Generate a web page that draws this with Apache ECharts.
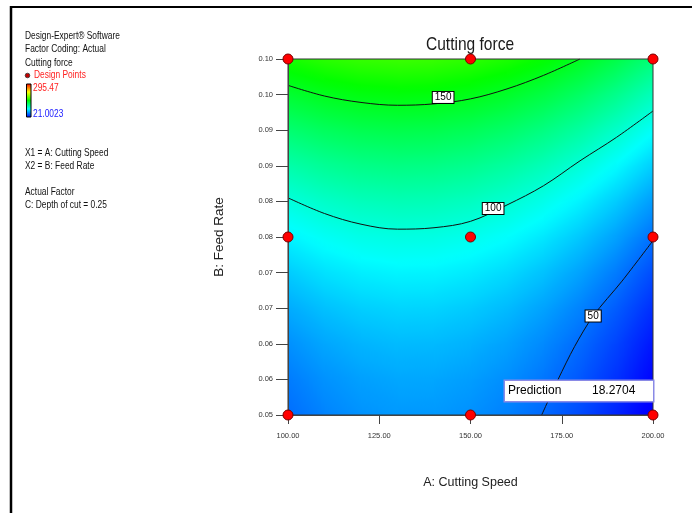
<!DOCTYPE html>
<html><head><meta charset="utf-8">
<script src="https://cdn.jsdelivr.net/npm/echarts@6/dist/echarts.min.js"></script>
<style>html,body{margin:0;padding:0;background:#fff}#c{width:692px;height:513px}</style>
</head><body><div id="c"></div>
<script>
// ---- data ----
const speedNodes = [100,110,120,130,140,150,160,170,180,190,200];
const feedNodes = [0.05,0.055,0.06,0.065,0.07,0.075,0.08,0.085,0.09,0.095,0.10];
// estimated cutting force, row = feedNodes[j], column = speedNodes[i]
const forceGrid = [
 [50.3,56.3,60.3,62.1,62.0,59.8,55.6,49.3,41.0,30.7,18.3],
 [54.3,60.2,64.1,65.9,65.7,63.4,59.2,52.8,44.5,34.1,21.6],
 [59.8,65.7,69.5,71.3,71.0,68.7,64.4,58.0,49.6,39.1,26.6],
 [67.1,72.9,76.6,78.3,78.0,75.6,71.3,64.8,56.3,45.8,33.3],
 [75.9,81.7,85.4,87.0,86.7,84.2,79.8,73.3,64.7,54.2,41.5],
 [86.5,92.1,95.8,97.4,97.0,94.5,90.0,83.4,74.8,64.2,51.5],
 [98.6,104.3,107.9,109.4,108.9,106.4,101.8,95.2,86.5,75.8,63.1],
 [112.5,118.0,121.6,123.1,122.5,119.9,115.3,108.6,99.9,89.1,76.4],
 [128.0,133.5,136.9,138.4,137.8,135.1,130.4,123.7,114.9,104.1,91.3],
 [145.1,150.6,154.0,155.3,154.7,152.0,147.2,140.4,131.6,120.7,107.8],
 [163.9,169.3,172.7,174.0,173.2,170.5,165.7,158.8,149.9,139.0,126.0]
];
const contour150 = [[100,0.0963],[110,0.0948],[120,0.0939],[130,0.0935],[140,0.0937],[150,0.0944],[160,0.0958],[170,0.0977],[180,0.1000]];
const contour100 = [[100,0.0805],[110,0.0783],[120,0.0768],[130,0.0761],[140,0.0763],[150,0.0772],[160,0.0795],[170,0.0822],[180,0.0857],[190,0.0890],[200,0.0927]];
const contour50 = [[200,0.0745],[191.5,0.0688],[183.6,0.0639],[178.5,0.0596],[174.0,0.0550],[169.5,0.0500]];
const contourLevels = ['150','100','50'];
const contourLabelSpeed = [142.5,156.2,183.6];
const contourLabelFeed = [0.0946,0.0790,0.0639];
const designSpeed = [100,150,200,100,150,200,100,150,200];
const designFeed = [0.05,0.05,0.05,0.075,0.075,0.075,0.10,0.10,0.10];
const predictionSpeed = 200, predictionFeed = 0.05, predictionValue = '18.2704';
const rangeMax = 295.47, rangeMin = 21.0023;
const xTickLabels = ['100.00','125.00','150.00','175.00','200.00'];
const yTickLabels = ['0.05','0.06','0.06','0.07','0.07','0.08','0.08','0.09','0.09','0.10','0.10'];
const titleText = 'Cutting force';
const infoLines = ['Design-Expert\u00AE Software','Factor Coding: Actual','Cutting force'];
const factorLines = ['X1 = A: Cutting Speed','X2 = B: Feed Rate'];
const actualLines = ['Actual Factor','C: Depth of cut = 0.25'];

// ---- styling ----
const FONT = '"Liberation Sans",Arial,sans-serif';
const cmapStops = [[0,[0,0,255]],[0.25,[0,255,255]],[0.5,[0,255,0]],[0.75,[255,255,0]],[1,[255,0,0]]];
function cmap(v){
  let t=(v-rangeMin)/(rangeMax-rangeMin); t=Math.max(0,Math.min(1,t));
  for(let k=1;k<cmapStops.length;k++){
    if(t<=cmapStops[k][0]||k===cmapStops.length-1){
      const a=cmapStops[k-1],b=cmapStops[k];
      const f=(t-a[0])/(b[0]-a[0]);
      const c=a[1].map((x,i)=>Math.round(x+(b[1][i]-x)*f));
      return 'rgb('+c.join(',')+')';
    }
  }
}
const cells=[];
for(let j=0;j<feedNodes.length-1;j++){
  for(let i=0;i<speedNodes.length-1;i++){
    cells.push([speedNodes[i],feedNodes[j],speedNodes[i+1],feedNodes[j+1],
      forceGrid[j][i],forceGrid[j][i+1],forceGrid[j+1][i],forceGrid[j+1][i+1]]);
  }
}
function renderCell(params, api){
  const a0=api.value(0),b0=api.value(1),a1=api.value(2),b1=api.value(3);
  const f00=api.value(4),f10=api.value(5),f01=api.value(6),f11=api.value(7);
  const p0=api.coord([a0,b0]),p1=api.coord([a1,b1]);
  const x=p0[0],y=p1[1],w=p1[0]-p0[0],h=p0[1]-p1[1];
  const gx=((f10+f11)-(f00+f01))/2/w;
  const gy=((f00+f10)-(f01+f11))/2/h;
  const fc=(f00+f10+f01+f11)/4;
  const cx=x+w/2,cy=y+h/2;
  const g=Math.hypot(gx,gy);
  const ex=(a1<200)?2:0, ey=(b1<0.1)?2:0;
  let fill;
  if(g<1e-9){fill=cmap(fc);}else{
    const dx=gx/g,dy=gy/g;
    const L=(Math.abs(dx)*(w+2*ex)+Math.abs(dy)*(h+2*ey))/2;
    const stops=[];const n=8;
    for(let k=0;k<=n;k++){const t=k/n;stops.push({offset:t,color:cmap(fc-g*L+2*g*L*t)});}
    fill=new echarts.graphic.LinearGradient(cx-dx*L,cy-dy*L,cx+dx*L,cy+dy*L,stops,true);
  }
  return {type:'rect',shape:{x:x,y:y-ey,width:w+ex,height:h+ey},style:{fill:fill}};
}

const graphics=[
  {type:'line',shape:{x1:10,y1:7,x2:692,y2:7},style:{stroke:'#000',lineWidth:2}},
  {type:'line',shape:{x1:11,y1:6,x2:11,y2:513},style:{stroke:'#000',lineWidth:2.5}}
];
function txt(x,y,t,color,size,sx,align){
  return {type:'text',x:x,y:y,scaleX:sx||0.8,
    style:{text:t,fill:color||'#111',font:(size||10.5)+'px '+FONT,
    align:align||'left',textAlign:align||'left',verticalAlign:'middle',textVerticalAlign:'middle'}};
}
graphics.push(txt(470,45,titleText,'#1a1a1a',18.5,0.84,'center'));
infoLines.forEach((t,k)=>graphics.push(txt(25,36+k*13.5,t)));
graphics.push({type:'circle',shape:{cx:27.5,cy:75.5,r:2.3},style:{fill:'#c00000',stroke:'#333',lineWidth:0.8}});
graphics.push(txt(34,75.5,'Design Points','#ff2020'));
graphics.push({type:'rect',shape:{x:26.5,y:84,width:4.5,height:33},style:{stroke:'#000',lineWidth:1,
  fill:new echarts.graphic.LinearGradient(0,0,0,1,[{offset:0,color:'#ff0000'},{offset:0.25,color:'#ffff00'},{offset:0.5,color:'#00ff00'},{offset:0.75,color:'#00ffff'},{offset:1,color:'#0000ff'}])}});
graphics.push(txt(33,88,String(rangeMax),'#ff2020'));
graphics.push(txt(33,114.5,String(rangeMin),'#2020ff'));
factorLines.forEach((t,k)=>graphics.push(txt(25,153.5+k*12.5,t)));
actualLines.forEach((t,k)=>graphics.push(txt(25,192.5+k*12.5,t)));

const chart=echarts.init(document.getElementById('c'),null,{renderer:'canvas'});
chart.setOption({
  animation:false,
  backgroundColor:'#fff',
  grid:{left:288,top:59,width:365,height:356,show:true,borderColor:'#333',borderWidth:1,backgroundColor:'transparent',z:10},
  xAxis:{type:'value',min:100,max:200,interval:25,z:10,
    axisLine:{show:true,lineStyle:{color:'#444',width:1}},
    axisTick:{show:true,length:9,lineStyle:{color:'#444'}},
    splitLine:{show:false},
    axisLabel:{margin:17,fontSize:7.5,color:'#333',fontFamily:FONT,
      formatter:v=>xTickLabels[Math.round((v-100)/25)]},
    name:'A: Cutting Speed',nameLocation:'middle',nameGap:61,
    nameTextStyle:{fontSize:12.5,color:'#222',fontFamily:FONT}},
  yAxis:{type:'value',min:0.05,max:0.10,interval:0.005,z:10,
    axisLine:{show:true,lineStyle:{color:'#444',width:1}},
    axisTick:{show:true,length:12,lineStyle:{color:'#444'}},
    splitLine:{show:false},
    axisLabel:{margin:15,fontSize:7.5,color:'#333',fontFamily:FONT,
      formatter:v=>yTickLabels[Math.round((v-0.05)/0.005)]},
    name:'B: Feed Rate',nameLocation:'middle',nameGap:62,nameRotate:90,
    nameTextStyle:{fontSize:13.5,color:'#222',fontFamily:FONT}},
  graphic:graphics,
  series:[
    {type:'custom',renderItem:renderCell,data:cells,encode:{x:[0,2],y:[1,3]},silent:true,clip:true,z:1},
    {type:'line',data:contour150,smooth:0.35,symbol:'none',lineStyle:{color:'#111',width:1},silent:true,z:5},
    {type:'line',data:contour100,smooth:0.35,symbol:'none',lineStyle:{color:'#111',width:1},silent:true,z:5},
    {type:'line',data:contour50,smooth:0.3,symbol:'none',lineStyle:{color:'#111',width:1},silent:true,z:5},
    {type:'scatter',data:contourLabelSpeed.map((a,k)=>[a,contourLabelFeed[k]]),symbolSize:1,
      itemStyle:{color:'rgba(0,0,0,0)',opacity:1},silent:true,z:15,
      label:{show:true,position:'inside',formatter:p=>contourLevels[p.dataIndex],fontSize:10,fontFamily:FONT,
        color:'#000',backgroundColor:'#fff',borderColor:'#000',borderWidth:1,padding:[1,2,0,2]}},
    {type:'scatter',data:designSpeed.map((a,k)=>[a,designFeed[k]]),symbolSize:10,clip:false,
      itemStyle:{color:'#ff0000',borderColor:'#7a0000',borderWidth:1,opacity:1},silent:true,z:20},
    {type:'scatter',data:[[predictionSpeed,predictionFeed]],symbolSize:1,clip:false,
      itemStyle:{color:'rgba(0,0,0,0)',opacity:1},silent:true,z:18,
      label:{show:true,position:[-147.5,-33.5],formatter:'{a|Prediction}{b|'+predictionValue+'}',
        backgroundColor:'#fff',borderColor:'#8a8ae6',borderWidth:1.5,padding:[3,3,3,3],width:142,height:14,
        rich:{a:{width:84,fontSize:12,fontFamily:FONT,color:'#000',lineHeight:14},
              b:{fontSize:12,fontFamily:FONT,color:'#000',lineHeight:14}}}}
  ]
});
</script></body></html>
